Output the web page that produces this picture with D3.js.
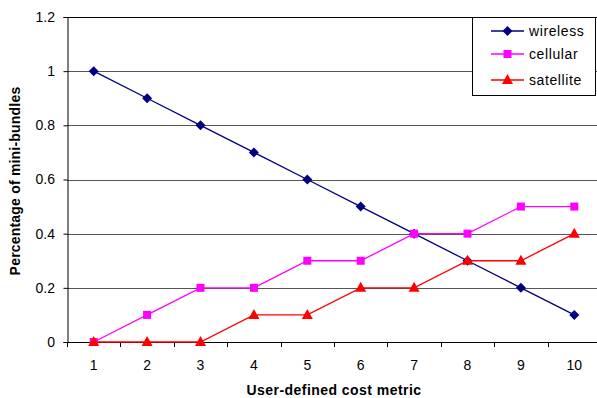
<!DOCTYPE html>
<html><head><meta charset="utf-8">
<script src="https://cdn.jsdelivr.net/npm/d3@7"></script>
<style>body{margin:0;background:#fff}svg{display:block;font-family:"Liberation Sans",Arial,sans-serif}</style>
</head><body>
<script>
const categories = [1,2,3,4,5,6,7,8,9,10];
const wireless = [1,0.9,0.8,0.7,0.6,0.5,0.4,0.3,0.2,0.1];
const cellular = [0,0.1,0.2,0.2,0.3,0.3,0.4,0.4,0.5,0.5];
const satellite = [0,0,0,0.1,0.1,0.2,0.2,0.3,0.3,0.4];
const yTicks = [0,0.2,0.4,0.6,0.8,1,1.2];
const seriesNames = ["wireless","cellular","satellite"];

const W=597,H=398;
const L=67,R=601,T=17,B=342;
const svg=d3.select("body").append("svg").attr("width",W).attr("height",H);
const x=d3.scaleBand().domain(categories).range([L,R]);
const y=d3.scaleLinear().domain([0,1.2]).range([B,T]);

// gridlines
svg.append("g").selectAll("line").data(yTicks.filter(d=>d>0&&d<1.2)).join("line")
 .attr("x1",L).attr("x2",R).attr("y1",d=>Math.round(y(d))+0.5).attr("y2",d=>Math.round(y(d))+0.5)
 .attr("stroke","#555").attr("stroke-width",1);
// top border
svg.append("line").attr("x1",L).attr("x2",R).attr("y1",T+0.5).attr("y2",T+0.5).attr("stroke","#000");

const yAxis=d3.axisLeft(y).tickValues(yTicks).tickSize(4).tickPadding(8.5).tickFormat(d=>d3.format("")(+d.toFixed(1)));
const gy=svg.append("g").attr("transform",`translate(${L+0.5},0)`).call(yAxis);
gy.select(".domain").attr("stroke","#000");
gy.selectAll("text").attr("font-size",14).attr("fill","#000").attr("font-family","Liberation Sans, Arial, sans-serif");

const xAxis=d3.axisBottom(x).tickSize(0).tickPadding(18);
const gx=svg.append("g").attr("transform",`translate(0,${Math.round(B)+0.5})`).call(xAxis);
gx.select(".domain").remove();
gx.selectAll("text").attr("font-size",14).attr("fill","#000").attr("font-family","Liberation Sans, Arial, sans-serif");
svg.append("line").attr("x1",L).attr("x2",R).attr("y1",Math.round(B)+0.5).attr("y2",Math.round(B)+0.5).attr("stroke","#000");
// x ticks at band boundaries
svg.append("g").selectAll("line").data(categories).join("line")
 .attr("x1",d=>Math.round(x(d))+0.5).attr("x2",d=>Math.round(x(d))+0.5)
 .attr("y1",B).attr("y2",B+5).attr("stroke","#000");

const cx=d=>x(d)+x.bandwidth()/2;
const series=[
 {name:"wireless",values:wireless,color:"#000080",shape:"diamond"},
 {name:"cellular",values:cellular,color:"#FF00FF",shape:"square"},
 {name:"satellite",values:satellite,color:"#FF0000",shape:"triangle"}
];
function marker(g,shape,color){
  if(shape==="diamond") g.append("path").attr("d","M0,-5L5,0L0,5L-5,0Z").attr("fill",color);
  else if(shape==="square") g.append("rect").attr("x",-4).attr("y",-4).attr("width",8).attr("height",8).attr("fill",color);
  else g.append("path").attr("d","M0,-6L5.5,4L-5.5,4Z").attr("fill",color);
}
const line=d3.line().x((d,i)=>cx(categories[i])).y(d=>y(d));
series.forEach(s=>{
  svg.append("path").datum(s.values).attr("d",line).attr("fill","none").attr("stroke",s.color).attr("stroke-width",1.3);
  s.values.forEach((v,i)=>{
    const g=svg.append("g").attr("transform",`translate(${cx(categories[i])},${y(v)})`);
    marker(g,s.shape,s.color);
  });
});

// legend
const lg=svg.append("g");
lg.append("rect").attr("x",472.5).attr("y",17.5).attr("width",123).attr("height",78).attr("fill","#fff").attr("stroke","#000");
const ly=[31,54,80];
series.forEach((s,i)=>{
  lg.append("line").attr("x1",491).attr("x2",524).attr("y1",ly[i]).attr("y2",ly[i]).attr("stroke",s.color).attr("stroke-width",1.3);
  const g=lg.append("g").attr("transform",`translate(507.5,${ly[i]})`);
  marker(g,s.shape,s.color);
  lg.append("text").attr("x",529).attr("y",ly[i]+4.5).attr("font-size",14).attr("letter-spacing",0.6).text(seriesNames[i]);
});

svg.append("text").attr("x",(L+R)/2).attr("y",395).attr("text-anchor","middle").attr("font-weight","bold").attr("font-size",14).attr("letter-spacing",0.45).text("User-defined cost metric");
svg.append("text").attr("transform",`translate(19.5,181) rotate(-90)`).attr("text-anchor","middle").attr("font-weight","bold").attr("font-size",14).attr("letter-spacing",0.2).text("Percentage of mini-bundles");
</script>
</body></html>
